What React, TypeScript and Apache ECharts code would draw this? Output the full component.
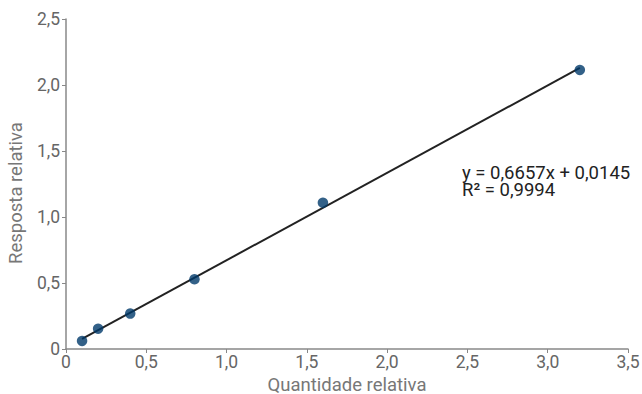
import React, { useEffect, useRef } from "react";
import * as echarts from "echarts";

const xValues = [0.1, 0.2, 0.4, 0.8, 1.6, 3.2];
const yValues = [0.061, 0.154, 0.268, 0.528, 1.108, 2.114];
const xTicks = { min: 0, max: 3.5, interval: 0.5 };
const yTicks = { min: 0, max: 2.5, interval: 0.5 };
const equationLines = ["y = 0,6657x + 0,0145", "R² = 0,9994"];
const xName = "Quantidade relativa";
const yName = "Resposta relativa";

function fit(xs: number[], ys: number[]) {
  const n = xs.length;
  const mx = xs.reduce((a, b) => a + b, 0) / n;
  const my = ys.reduce((a, b) => a + b, 0) / n;
  let sxx = 0, sxy = 0;
  for (let i = 0; i < n; i++) {
    sxx += (xs[i] - mx) ** 2;
    sxy += (xs[i] - mx) * (ys[i] - my);
  }
  const slope = sxy / sxx;
  return { slope, intercept: my - slope * mx };
}

const fmt = (v: number) => (v === 0 ? "0" : v.toFixed(1).replace(".", ","));

export default function App() {
  const ref = useRef<HTMLDivElement>(null);
  useEffect(() => {
    if (!ref.current) return;
    const chart = echarts.init(ref.current, undefined, { renderer: "svg" });
    const { slope, intercept } = fit(xValues, yValues);
    const x0 = xValues[0];
    const x1 = xValues[xValues.length - 1];
    const trend = [
      [x0, slope * x0 + intercept],
      [x1, slope * x1 + intercept],
    ];
    const axisCommon = {
      axisLine: { show: true, lineStyle: { color: "#888", width: 1.5 } },
      axisTick: { show: true, length: 4, lineStyle: { color: "#888" } },
      splitLine: { show: false },
      axisLabel: {
        color: "#666",
        fontSize: 17.5,
        fontFamily: "Roboto",
        formatter: fmt,
      },
      nameTextStyle: { color: "#777", fontSize: 18.5, fontFamily: "Roboto" },
      nameLocation: "middle" as const,
    };
    chart.setOption({
      animation: false,
      grid: {
        left: 66,
        right: 14,
        top: 19,
        bottom: 45,
        containLabel: false,
        outerBoundsMode: "none",
      },
      textStyle: { fontFamily: "Roboto" },
      xAxis: {
        type: "value",
        ...xTicks,
        name: xName,
        nameGap: 23,
        ...axisCommon,
        nameTextStyle: { ...axisCommon.nameTextStyle, lineHeight: 19 },
        axisLabel: { ...axisCommon.axisLabel, margin: 4 },
      },
      yAxis: {
        type: "value",
        ...yTicks,
        name: yName,
        nameGap: 39,
        ...axisCommon,
        nameTextStyle: { ...axisCommon.nameTextStyle, padding: [0, 18, 0, 0] },
        axisLabel: { ...axisCommon.axisLabel, margin: 6 },
      },
      series: [
        {
          type: "line",
          data: trend,
          symbol: "none",
          lineStyle: { color: "#222", width: 2 },
          z: 2,
          silent: true,
        },
        {
          type: "scatter",
          data: xValues.map((x, i) => [x, yValues[i]]),
          symbolSize: 10.5,
          itemStyle: { color: "#003a6a" },
          z: 3,
        },
      ],
      graphic: [
        {
          type: "text",
          left: 462,
          top: 163,
          style: {
            text: equationLines.join("\n"),
            fill: "#222",
            fontSize: 18.5,
            fontFamily: "Roboto",
            lineHeight: 17,
          },
        },
      ],
    });
    return () => chart.dispose();
  }, []);
  return <div ref={ref} style={{ width: 642, height: 394, position: "absolute", left: 0, top: 0 }} />;
}
